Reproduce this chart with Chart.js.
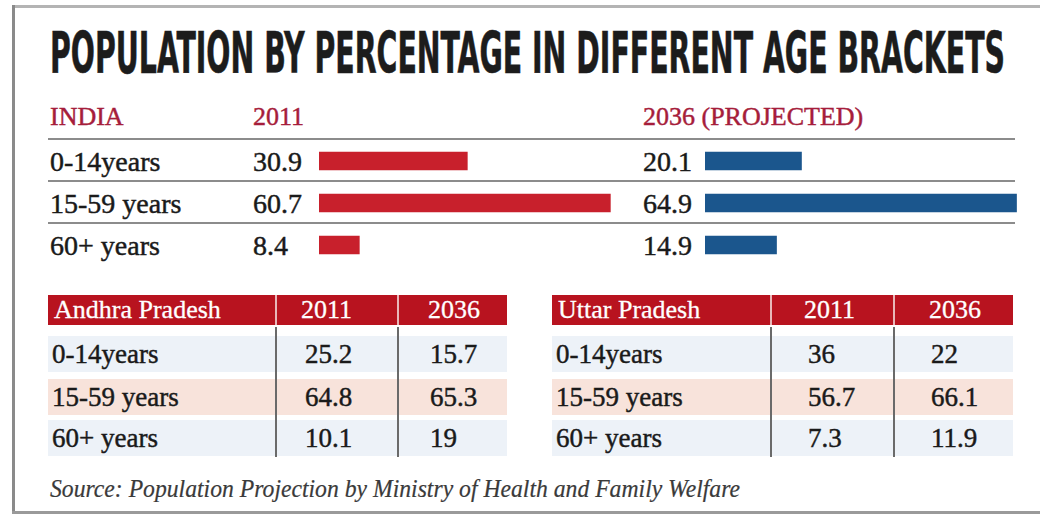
<!DOCTYPE html>
<html>
<head>
<meta charset="utf-8">
<script src="https://cdn.jsdelivr.net/npm/chart.js@4"></script>
<style>
  html, body { margin:0; padding:0; background:#fff; }
  body { width:1040px; height:517px; position:relative; overflow:hidden; font-family:"Liberation Serif", serif; color:#1a1a1a; }
  .abs { position:absolute; white-space:nowrap; -webkit-text-stroke: 0.45px currentColor; }
  .fit { transform-origin: 0 50%; display:inline-block; }
  .rule { position:absolute; left:48px; width:967px; height:2px; background:#8c8c8c; }
  .band { position:absolute; }
  canvas { position:absolute; }
</style>
</head>
<body>
<script>
// ---------- DATA ----------
const title = 'POPULATION BY PERCENTAGE IN DIFFERENT AGE BRACKETS';
const ageGroups = ['0-14years', '15-59 years', '60+ years'];
const indiaLabel = 'INDIA';
const yearLabels = ['2011', '2036 (PROJECTED)'];
const india2011 = [30.9, 60.7, 8.4];
const india2036 = [20.1, 64.9, 14.9];
const apName = 'Andhra Pradesh';
const ap2011 = [25.2, 64.8, 10.1];
const ap2036 = [15.7, 65.3, 19];
const upName = 'Uttar Pradesh';
const up2011 = [36, 56.7, 7.3];
const up2036 = [22, 66.1, 11.9];
const tableYears = ['2011', '2036'];
const sourceText = 'Source: Population Projection by Ministry of Health and Family Welfare';

// ---------- HELPERS ----------
function text(str, x, cy, size, opts = {}) {
  const h = Math.round(size * 1.4);
  const d = document.createElement('div');
  d.className = 'abs';
  d.style.left = x + 'px';
  d.style.top = (cy - h / 2) + 'px';
  d.style.height = h + 'px';
  d.style.lineHeight = h + 'px';
  d.style.fontSize = size + 'px';
  if (opts.family) d.style.fontFamily = opts.family;
  if (opts.color) d.style.color = opts.color;
  if (opts.weight) d.style.fontWeight = opts.weight;
  if (opts.italic) d.style.fontStyle = 'italic';
  if (opts.stroke !== undefined) d.style.webkitTextStroke = opts.stroke + 'px currentColor';
  const s = document.createElement('span');
  s.className = 'fit';
  s.textContent = str;
  d.appendChild(s);
  document.body.appendChild(d);
  if (opts.fitWidth) {
    const w = s.getBoundingClientRect().width;
    s.style.transform = 'scaleX(' + (opts.fitWidth / w) + ')';
  }
  return d;
}
function box(x, y, w, h, bg) {
  const d = document.createElement('div');
  d.className = 'band';
  d.style.left = x + 'px'; d.style.top = y + 'px';
  d.style.width = w + 'px'; d.style.height = h + 'px';
  d.style.background = bg;
  document.body.appendChild(d);
  return d;
}

// ---------- FRAME ----------
box(12, 5, 1028, 3, '#b4b4b4');
box(12, 5, 3, 509, '#8a8a8a');
box(12, 511, 1028, 3, '#9a9a9a');

// ---------- TITLE ----------
text(title, 50, 53, 57, { family: '"Liberation Sans Narrow","DejaVu Sans Condensed","Liberation Sans",sans-serif', weight: 'bold', color: '#1c1c1c', fitWidth: 955, stroke: 0.6 });

// ---------- INDIA SECTION ----------
const red = '#a61d3b';
text(indiaLabel, 50, 117, 26, { color: red });
text(yearLabels[0], 253, 117, 26, { color: red });
text(yearLabels[1], 643, 117, 26, { color: red });

[138, 180, 222].forEach(y => { const r = document.createElement('div'); r.className = 'rule'; r.style.top = y + 'px'; document.body.appendChild(r); });

const rowCenters = [161, 203, 245];
ageGroups.forEach((g, i) => {
  text(g, 50, rowCenters[i], 28);
  text(String(india2011[i]), 253, rowCenters[i], 28);
  text(String(india2036[i]), 643, rowCenters[i], 28);
});

function makeBarChart(left, data, color) {
  const c = document.createElement('canvas');
  c.width = 320; c.height = 126;
  c.style.left = left + 'px'; c.style.top = '140px';
  c.style.width = '320px'; c.style.height = '126px';
  document.body.appendChild(c);
  new Chart(c.getContext('2d'), {
    type: 'bar',
    data: { labels: ageGroups, datasets: [{ data: data, backgroundColor: color, barThickness: 18, borderWidth: 0 }] },
    options: {
      indexAxis: 'y', responsive: false, animation: false, devicePixelRatio: 1,
      layout: { padding: 0 },
      plugins: { legend: { display: false }, tooltip: { enabled: false } },
      scales: {
        x: { display: false, min: 0, max: 320 / 4.8 },
        y: { display: false }
      }
    }
  });
}
makeBarChart(319, india2011, '#c8202c');
makeBarChart(705, india2036, '#1b568d');

// ---------- STATE TABLES ----------
function makeTable(x0, x1, name, d1x, d2x, v1x, v2x, vals1, vals2) {
  const hTop = 295, hBot = 325;
  box(x0, hTop, x1 - x0, hBot - hTop, '#b8131f');
  box(d1x, hTop, 2, hBot - hTop, '#e9b7b9');
  box(d2x, hTop, 2, hBot - hTop, '#e9b7b9');
  text(name, x0 + 6, 310, 26, { color: '#fff', stroke: 0.3 });
  text(tableYears[0], v1x - 4, 310, 26, { color: '#fff', stroke: 0.3 });
  text(tableYears[1], v2x - 2, 310, 26, { color: '#fff', stroke: 0.3 });
  const centers = [354, 397, 438];
  const bgs = ['#edf2f8', '#f8e3db', '#edf2f8'];
  centers.forEach((cy, i) => {
    box(x0, cy - 18, x1 - x0, 36, bgs[i]);
  });
  box(d1x, hBot + 2, 2, 130, '#6a6a6a');
  box(d2x, hBot + 2, 2, 130, '#6a6a6a');
  centers.forEach((cy, i) => {
    text(ageGroups[i], x0 + 4, cy, 27);
    text(String(vals1[i]), v1x, cy, 27);
    text(String(vals2[i]), v2x, cy, 27);
  });
}
makeTable(48, 507, apName, 275, 397, 305, 430, ap2011, ap2036);
makeTable(552, 1013, upName, 770, 893, 808, 931, up2011, up2036);

// ---------- SOURCE ----------
text(sourceText, 50, 488, 25, { italic: true, color: '#3a3a3a', fitWidth: 690, stroke: 0.2 });
</script>
</body>
</html>
